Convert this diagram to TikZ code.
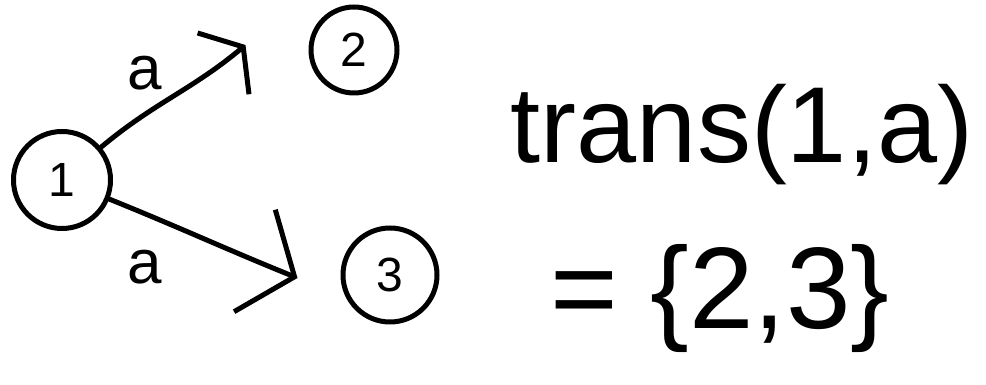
\documentclass[tikz,border=0pt]{standalone}
\usepackage{fontspec}
\setmainfont{Liberation Sans}
\usetikzlibrary{arrows.meta,calc}
\tikzset{
  ink/.style={line width=5pt, line cap=round, line join=round},
  state/.style={ink, draw, circle, inner sep=0pt, font=\fontsize{48}{50}\selectfont},
  edge/.style={ink, draw},
  lbl/.style={inner sep=0pt, font=\fontsize{62}{64}\selectfont},
  bigtext/.style={inner sep=0pt, anchor=center}
}
\begin{document}
\begin{tikzpicture}[x=1pt,y=1pt]
\fill[white] (0,0) rectangle (986,385);
\useasboundingbox (0,0) rectangle (986,385);
\node[state, minimum size=97pt] (n1) at (62,205) {1};
\node[state, minimum size=86pt] (n2) at (354,335) {2};
\node[state, minimum size=94pt] (n3) at (390,110) {3};
\coordinate (t2) at ($(n2.west)+(-63,5)$);
\coordinate (t3) at ($(n3.west)+(-43,-3)$);
\draw[edge, -{Straight Barb[length=26pt,width=80pt]}] (n1) to[out=40,in=220] (t2);
\draw[edge, -{Straight Barb[length=43pt,width=110pt]}] (n1) to[out=-22,in=158] (t3);
\node[lbl] (la) at (145,312) {a};
\node[lbl] (lb) at (145,118) {a};
\node[bigtext, font=\fontsize{108}{110}\selectfont] (tr) at (742,250) {trans(1,a)};
\node[bigtext, font=\fontsize{116}{118}\selectfont] (res) at (720,86) {= \{2,3\}};
\end{tikzpicture}
\end{document}
